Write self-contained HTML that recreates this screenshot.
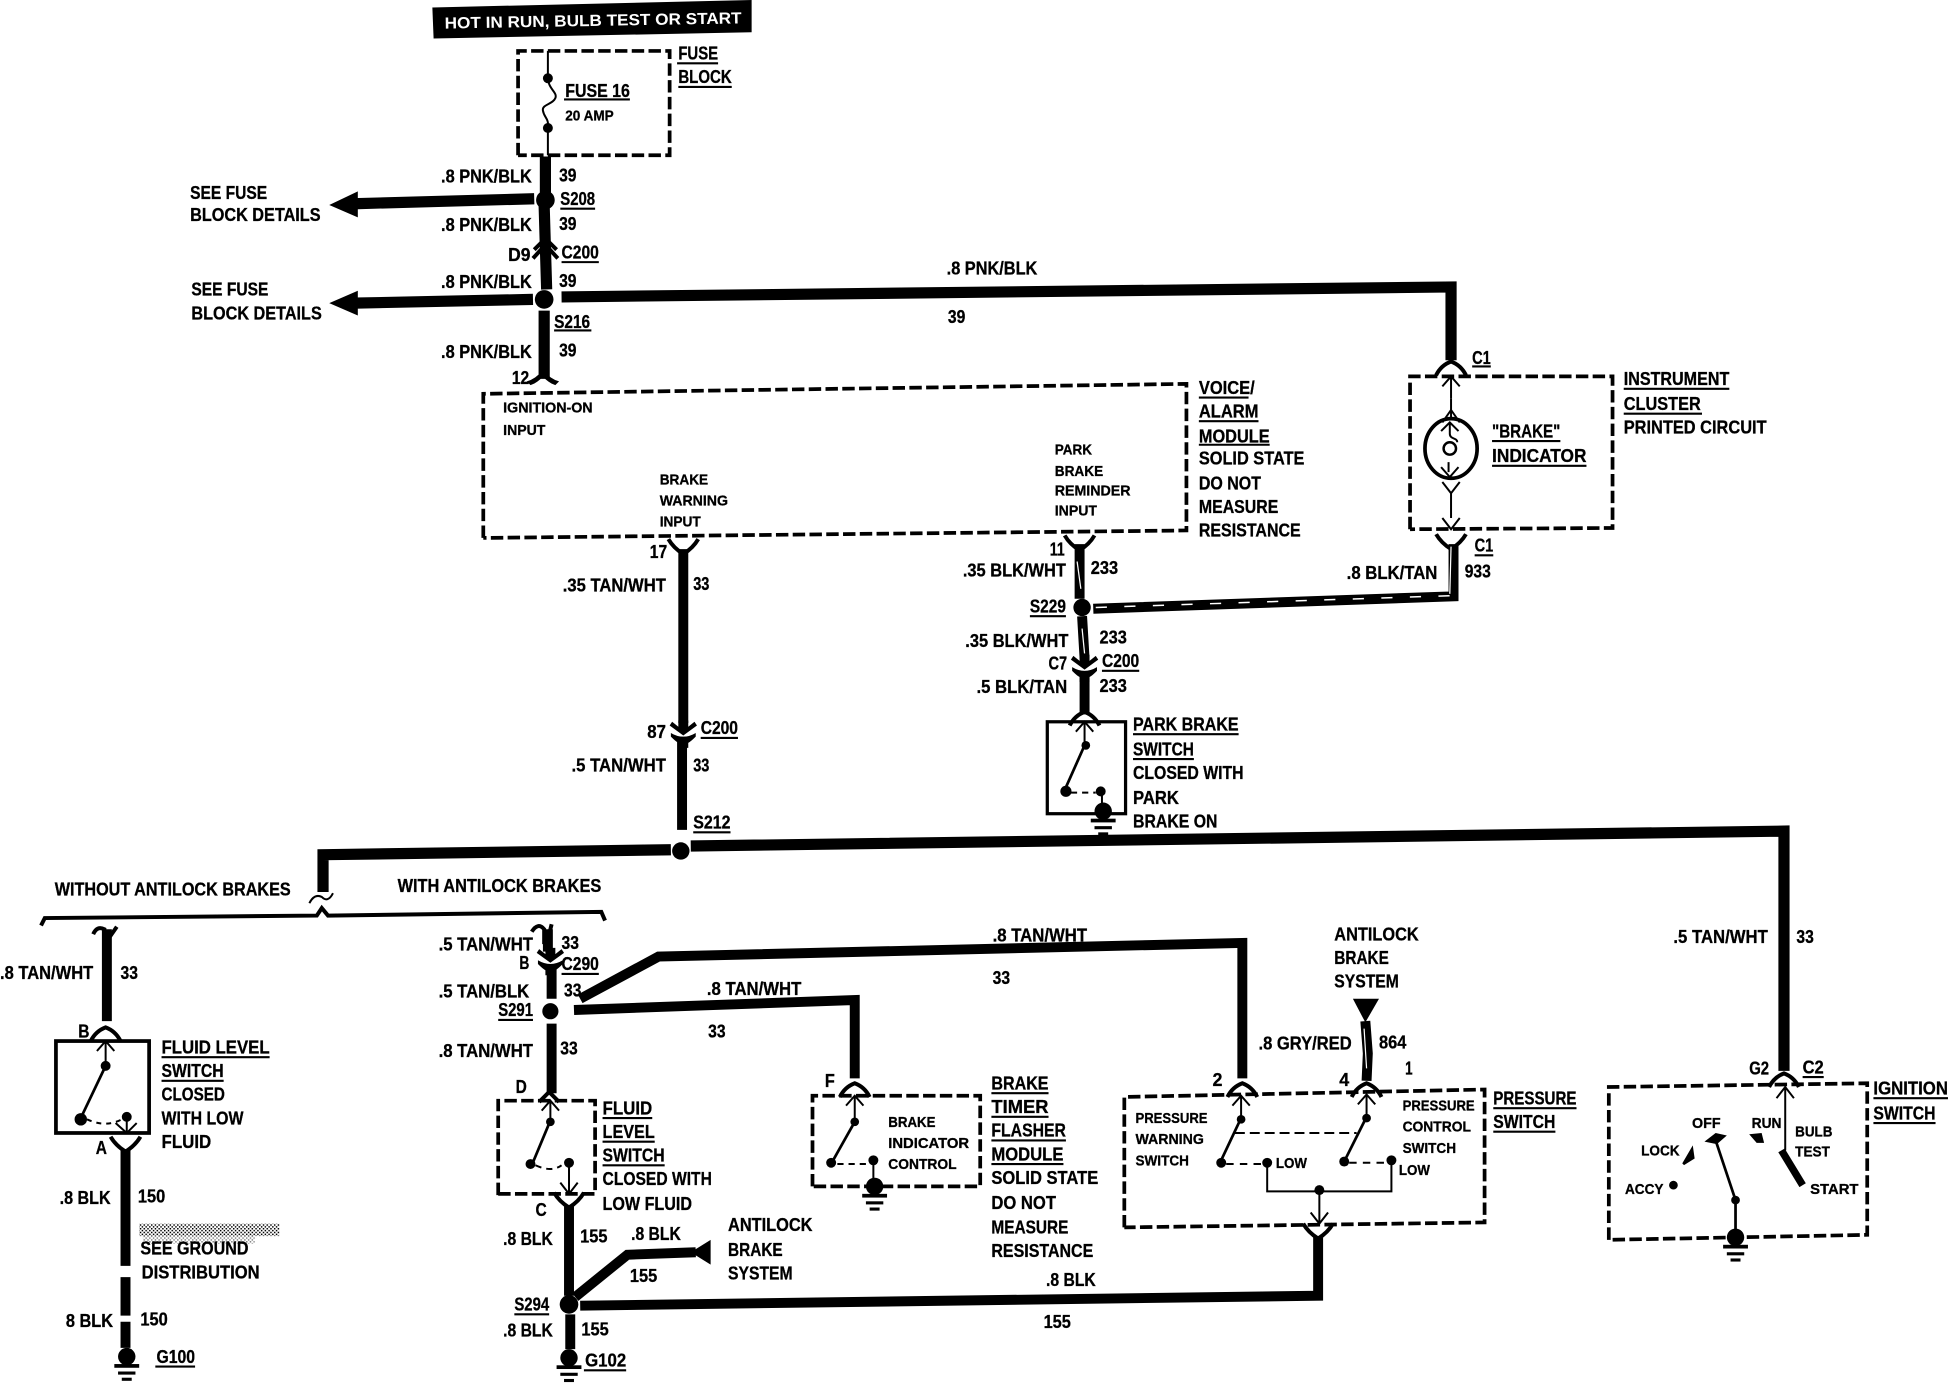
<!DOCTYPE html>
<html><head><meta charset="utf-8"><style>
html,body{margin:0;padding:0;background:#fff}
svg{display:block}
text{font-family:"Liberation Sans",sans-serif;font-weight:700;font-size:15px;fill:#000;stroke:#000;stroke-width:.25}
.s{font-size:12px}
.w{fill:none;stroke:#000;stroke-width:9}
.m{fill:none;stroke:#000;stroke-width:8}
.t{fill:none;stroke:#000;stroke-width:1.6}
.c{fill:none;stroke:#000;stroke-width:3.2}
.d{fill:none;stroke:#000;stroke-width:3;stroke-dasharray:10 3.5}
.u{stroke:#000;stroke-width:1.7}
.x{fill:none;stroke:#fff;stroke-width:1.2;stroke-dasharray:9 14}
</style></head><body>
<svg width="1948" height="1392" viewBox="0 0 1568 1120.5" xmlns="http://www.w3.org/2000/svg">
<defs>
<pattern id="dz" width="3" height="3" patternUnits="userSpaceOnUse"><rect width="1.2" height="1.2" fill="#000"/><rect x="1.5" y="1.5" width="1.2" height="1.2" fill="#000"/></pattern>
<g id="up"><path class="c" d="M-12 6Q-8 -2 0 -5Q8 -2 12 6"/></g>
<g id="dn"><path class="c" d="M-12 -7Q-8 0 0 5Q8 0 12 -7"/></g>
<g id="cx"><path d="M-4 -10H4V-5L9 -9L11 -6L0 2L-11 -6L-9 -9L-4 -5Z"/><path d="M-10 0Q-5 3 0 3Q5 3 10 0L10 3Q6 7 4 8V12H-4V8Q-6 7 -10 3Z"/></g>
<g id="ar"><path class="t" d="M-7 8L0 0L7 8M0 0V18"/></g>
<g id="gnd"><circle cx="0" cy="-3" r="7"/><rect x="-10" y="3" width="20" height="3"/><rect x="-7" y="9" width="14" height="2.5"/><rect x="-4" y="14" width="8" height="2.5"/></g>
</defs>
<rect width="1568" height="1120.5" fill="#fff"/>

<!-- header -->
<path d="M348 6L605 0V26L349 31Z"/>
<text x="358" y="23" textLength="239" lengthAdjust="spacingAndGlyphs" style="fill:#fff;stroke:none;font-size:13px" transform="rotate(-1 358 23)">HOT IN RUN, BULB TEST OR START</text>

<!-- fuse block -->
<path class="d" d="M417 125V41H539V125H417"/>
<path class="t" d="M441 41V62M441 62C441 72 449 74 447 79C445 84 436 84 437 89C438 95 442 95 441 103V125" stroke-width="2"/>
<circle cx="441" cy="63" r="4"/><circle cx="441" cy="103" r="4"/>
<text x="455" y="78" textLength="52" lengthAdjust="spacingAndGlyphs">FUSE 16</text><line class="u" x1="454" y1="80" x2="507" y2="80"/>
<text class="s" x="455" y="97" textLength="39" lengthAdjust="spacingAndGlyphs">20 AMP</text>
<text x="546" y="48" textLength="32" lengthAdjust="spacingAndGlyphs">FUSE</text><line class="u" x1="545" y1="51" x2="578" y2="51"/>
<text x="546" y="67" textLength="43" lengthAdjust="spacingAndGlyphs">BLOCK</text><line class="u" x1="546" y1="70" x2="589" y2="70"/>

<!-- main 39 wire -->
<path class="w" d="M439 126V155M438 166L440 233M438 250V305"/>
<path class="c" d="M429 208L439 197L449 208M430 201L439 192L448 201"/>
<path d="M424 307Q431 305 437 298Q443 305 450 307L447 310Q441 308 437 303Q433 308 427 310Z"/>
<circle cx="439" cy="161" r="7.5"/><circle cx="438" cy="241" r="7.5"/>
<path class="w" d="M285 164L430 160M285 244L429 241"/>
<path d="M265 165L288 154V175ZM265 244L288 234V254Z"/>
<path class="w" d="M452 239L1168 231V290"/>
<use href="#up" x="1168" y="296"/>
<text x="355" y="147" textLength="73" lengthAdjust="spacingAndGlyphs">.8 PNK/BLK</text><text x="450" y="146" textLength="14" lengthAdjust="spacingAndGlyphs">39</text>
<text x="451" y="165" textLength="28" lengthAdjust="spacingAndGlyphs">S208</text><line class="u" x1="451" y1="168" x2="479" y2="168"/>
<text x="355" y="186" textLength="73" lengthAdjust="spacingAndGlyphs">.8 PNK/BLK</text><text x="450" y="185" textLength="14" lengthAdjust="spacingAndGlyphs">39</text>
<text x="409" y="210" textLength="18" lengthAdjust="spacingAndGlyphs">D9</text>
<text x="452" y="208" textLength="30" lengthAdjust="spacingAndGlyphs">C200</text><line class="u" x1="452" y1="211" x2="482" y2="211"/>
<text x="355" y="232" textLength="73" lengthAdjust="spacingAndGlyphs">.8 PNK/BLK</text><text x="450" y="231" textLength="14" lengthAdjust="spacingAndGlyphs">39</text>
<text x="446" y="264" textLength="29" lengthAdjust="spacingAndGlyphs">S216</text><line class="u" x1="446" y1="266" x2="476" y2="266"/>
<text x="355" y="288" textLength="73" lengthAdjust="spacingAndGlyphs">.8 PNK/BLK</text><text x="450" y="287" textLength="14" lengthAdjust="spacingAndGlyphs">39</text>
<text x="412" y="309" textLength="14" lengthAdjust="spacingAndGlyphs">12</text>
<text x="762" y="221" textLength="73" lengthAdjust="spacingAndGlyphs">.8 PNK/BLK</text><text x="763" y="260" textLength="14" lengthAdjust="spacingAndGlyphs">39</text>
<text x="153" y="160" textLength="62" lengthAdjust="spacingAndGlyphs">SEE FUSE</text><text x="153" y="178" textLength="105" lengthAdjust="spacingAndGlyphs">BLOCK DETAILS</text>
<text x="154" y="238" textLength="62" lengthAdjust="spacingAndGlyphs">SEE FUSE</text><text x="154" y="257" textLength="105" lengthAdjust="spacingAndGlyphs">BLOCK DETAILS</text>

<!-- voice alarm module -->
<path class="d" d="M389 433V317L955 309V427L389 433"/>
<text class="s" x="405" y="332" textLength="72" lengthAdjust="spacingAndGlyphs">IGNITION-ON</text><text class="s" x="405" y="350" textLength="34" lengthAdjust="spacingAndGlyphs">INPUT</text>
<text class="s" x="531" y="390" textLength="39" lengthAdjust="spacingAndGlyphs">BRAKE</text><text class="s" x="531" y="407" textLength="55" lengthAdjust="spacingAndGlyphs">WARNING</text><text class="s" x="531" y="424" textLength="33" lengthAdjust="spacingAndGlyphs">INPUT</text>
<text class="s" x="849" y="366" textLength="30" lengthAdjust="spacingAndGlyphs">PARK</text><text class="s" x="849" y="383" textLength="39" lengthAdjust="spacingAndGlyphs">BRAKE</text><text class="s" x="849" y="399" textLength="61" lengthAdjust="spacingAndGlyphs">REMINDER</text><text class="s" x="849" y="415" textLength="34" lengthAdjust="spacingAndGlyphs">INPUT</text>
<text x="965" y="317" textLength="45" lengthAdjust="spacingAndGlyphs">VOICE/</text><line class="u" x1="965" y1="320" x2="1005" y2="320"/>
<text x="965" y="336" textLength="48" lengthAdjust="spacingAndGlyphs">ALARM</text><line class="u" x1="965" y1="339" x2="1013" y2="339"/>
<text x="965" y="356" textLength="57" lengthAdjust="spacingAndGlyphs">MODULE</text><line class="u" x1="965" y1="358" x2="1022" y2="358"/>
<text x="965" y="374" textLength="85" lengthAdjust="spacingAndGlyphs">SOLID STATE</text><text x="965" y="394" textLength="50" lengthAdjust="spacingAndGlyphs">DO NOT</text><text x="965" y="413" textLength="64" lengthAdjust="spacingAndGlyphs">MEASURE</text><text x="965" y="432" textLength="82" lengthAdjust="spacingAndGlyphs">RESISTANCE</text>

<!-- instrument cluster -->
<path class="d" d="M1135 426V303H1298V425L1135 426"/>
<use href="#ar" x="1168" y="303"/>
<path class="t" d="M1168 321V336M1161 340L1168 330L1175 340"/>
<ellipse cx="1168" cy="361" rx="21" ry="24" fill="none" stroke="#000" stroke-width="3"/>
<path class="t" d="M1160 347L1167 340L1174 347M1167 341V349C1167 354 1173 352 1173 356M1166 372V380M1160 376L1167 384L1174 376"/>
<circle cx="1167" cy="361" r="5" fill="none" stroke="#000" stroke-width="2"/>
<path class="t" d="M1161 388L1168 397L1175 388M1168 397V417M1161 417L1168 426L1175 417"/>
<text x="1201" y="352" textLength="55" lengthAdjust="spacingAndGlyphs">"BRAKE"</text><line class="u" x1="1201" y1="355" x2="1256" y2="355"/>
<text x="1201" y="372" textLength="76" lengthAdjust="spacingAndGlyphs">INDICATOR</text><line class="u" x1="1201" y1="375" x2="1277" y2="375"/>
<text x="1185" y="293" textLength="15" lengthAdjust="spacingAndGlyphs">C1</text><line class="u" x1="1185" y1="295" x2="1200" y2="295"/>
<text x="1307" y="310" textLength="85" lengthAdjust="spacingAndGlyphs">INSTRUMENT</text><line class="u" x1="1307" y1="313" x2="1392" y2="313"/>
<text x="1307" y="330" textLength="62" lengthAdjust="spacingAndGlyphs">CLUSTER</text><line class="u" x1="1307" y1="333" x2="1370" y2="333"/>
<text x="1307" y="349" textLength="115" lengthAdjust="spacingAndGlyphs">PRINTED CIRCUIT</text>
<use href="#dn" x="1168" y="437"/>
<text x="1187" y="444" textLength="15" lengthAdjust="spacingAndGlyphs">C1</text><line class="u" x1="1187" y1="447" x2="1202" y2="447"/>
<path class="m" d="M880 490L1170 480V438"/>
<path class="x" d="M882 489L1168 479.5"/>
<path d="M1168 440L1167 478" stroke="#fff" stroke-width="1" fill="none"/>
<text x="1084" y="466" textLength="73" lengthAdjust="spacingAndGlyphs">.8 BLK/TAN</text><text x="1179" y="465" textLength="21" lengthAdjust="spacingAndGlyphs">933</text>

<!-- 233 wire -->
<use href="#dn" x="869" y="438"/>
<path class="m" d="M869 438V482M871 496L873 530M873 545V575"/>
<path d="M867 452L870 474" stroke="#fff" stroke-width="1"/><path d="M871 506L873 526" stroke="#fff" stroke-width="1"/>
<circle cx="871" cy="489" r="7"/>
<use href="#cx" x="873" y="537"/>
<use href="#up" x="873" y="578"/>
<text x="845" y="447" textLength="12" lengthAdjust="spacingAndGlyphs">11</text>
<text x="775" y="464" textLength="83" lengthAdjust="spacingAndGlyphs">.35 BLK/WHT</text><text x="878" y="462" textLength="22" lengthAdjust="spacingAndGlyphs">233</text>
<text x="829" y="493" textLength="29" lengthAdjust="spacingAndGlyphs">S229</text><line class="u" x1="829" y1="496" x2="858" y2="496"/>
<text x="777" y="521" textLength="83" lengthAdjust="spacingAndGlyphs">.35 BLK/WHT</text><text x="885" y="518" textLength="22" lengthAdjust="spacingAndGlyphs">233</text>
<text x="844" y="539" textLength="15" lengthAdjust="spacingAndGlyphs">C7</text>
<text x="887" y="537" textLength="30" lengthAdjust="spacingAndGlyphs">C200</text><line class="u" x1="887" y1="540" x2="917" y2="540"/>
<text x="786" y="558" textLength="73" lengthAdjust="spacingAndGlyphs">.5 BLK/TAN</text><text x="885" y="557" textLength="22" lengthAdjust="spacingAndGlyphs">233</text>

<!-- park brake switch -->
<rect x="843" y="581" width="63" height="74" fill="none" stroke="#000" stroke-width="2.6"/>
<use href="#ar" x="873" y="581"/>
<path d="M873 600L857 636" stroke="#000" stroke-width="2.2"/><circle cx="874" cy="600" r="3.5"/><circle cx="858" cy="637" r="4.5"/><circle cx="886" cy="637" r="4"/>
<path class="t" d="M862 638H882" stroke-dasharray="5 4" stroke-width="2"/>
<path class="t" d="M887 640V650"/>
<use href="#gnd" x="888" y="656"/>
<text x="912" y="588" textLength="85" lengthAdjust="spacingAndGlyphs">PARK BRAKE</text><line class="u" x1="912" y1="591" x2="997" y2="591"/>
<text x="912" y="608" textLength="49" lengthAdjust="spacingAndGlyphs">SWITCH</text><line class="u" x1="912" y1="611" x2="961" y2="611"/>
<text x="912" y="627" textLength="89" lengthAdjust="spacingAndGlyphs">CLOSED WITH</text><text x="912" y="647" textLength="37" lengthAdjust="spacingAndGlyphs">PARK</text><text x="912" y="666" textLength="68" lengthAdjust="spacingAndGlyphs">BRAKE ON</text>

<!-- 33 wire -->
<use href="#dn" x="550" y="441"/>
<path class="m" d="M550 442V582M549 597V668"/>
<use href="#cx" x="550" y="590"/>
<circle cx="548" cy="685" r="7"/>
<text x="523" y="449" textLength="14" lengthAdjust="spacingAndGlyphs">17</text>
<text x="453" y="476" textLength="83" lengthAdjust="spacingAndGlyphs">.35 TAN/WHT</text><text x="558" y="475" textLength="13" lengthAdjust="spacingAndGlyphs">33</text>
<text x="521" y="594" textLength="15" lengthAdjust="spacingAndGlyphs">87</text>
<text x="564" y="591" textLength="30" lengthAdjust="spacingAndGlyphs">C200</text><line class="u" x1="564" y1="594" x2="594" y2="594"/>
<text x="460" y="621" textLength="76" lengthAdjust="spacingAndGlyphs">.5 TAN/WHT</text><text x="558" y="621" textLength="13" lengthAdjust="spacingAndGlyphs">33</text>
<text x="558" y="667" textLength="30" lengthAdjust="spacingAndGlyphs">S212</text><line class="u" x1="558" y1="670" x2="588" y2="670"/>

<path class="w" d="M260 718V688L540 684M556 681L1436 669V862"/>
<path class="t" d="M249 727Q253 719 259 722Q264 727 268 719" stroke-width="2"/>
<text x="1347" y="759" textLength="76" lengthAdjust="spacingAndGlyphs">.5 TAN/WHT</text><text x="1446" y="759" textLength="14" lengthAdjust="spacingAndGlyphs">33</text>
<use href="#up" x="1436" y="869"/>
<text x="1408" y="865" textLength="16" lengthAdjust="spacingAndGlyphs">G2</text><text x="1451" y="864" textLength="17" lengthAdjust="spacingAndGlyphs">C2</text><line class="u" x1="1451" y1="867" x2="1468" y2="867"/>

<text x="44" y="721" textLength="190" lengthAdjust="spacingAndGlyphs">WITHOUT ANTILOCK BRAKES</text>
<text x="320" y="718" textLength="164" lengthAdjust="spacingAndGlyphs">WITH ANTILOCK BRAKES</text>
<path class="c" d="M33 745L36 739L255 737L259 731L264 737L484 734L487 741"/>

<!-- left branch -->
<path class="c" d="M75 752Q78 745 84 748V756M87 756L94 746"/>
<path class="m" d="M86 748V822"/>
<use href="#up" x="85" y="832"/>
<text x="0" y="788" textLength="75" lengthAdjust="spacingAndGlyphs">.8 TAN/WHT</text><text x="97" y="788" textLength="14" lengthAdjust="spacingAndGlyphs">33</text>
<text x="63" y="835" textLength="9" lengthAdjust="spacingAndGlyphs">B</text>
<rect x="45" y="838" width="75" height="74" fill="none" stroke="#000" stroke-width="3"/>
<use href="#ar" x="85" y="838"/>
<path d="M85 858L65 900" stroke="#000" stroke-width="2.2"/><circle cx="85" cy="858" r="4"/><circle cx="65" cy="901" r="5"/><circle cx="102" cy="899" r="4"/>
<path class="t" d="M70 901Q85 908 98 901" stroke-dasharray="4 4" stroke-width="2"/>
<path class="t" d="M93 904L102 912L110 904M102 899V912"/>
<text x="130" y="848" textLength="87" lengthAdjust="spacingAndGlyphs">FLUID LEVEL</text><line class="u" x1="130" y1="851" x2="217" y2="851"/>
<text x="130" y="867" textLength="50" lengthAdjust="spacingAndGlyphs">SWITCH</text><line class="u" x1="130" y1="870" x2="180" y2="870"/>
<text x="130" y="886" textLength="51" lengthAdjust="spacingAndGlyphs">CLOSED</text><text x="130" y="905" textLength="66" lengthAdjust="spacingAndGlyphs">WITH LOW</text><text x="130" y="924" textLength="40" lengthAdjust="spacingAndGlyphs">FLUID</text>
<text x="77" y="929" textLength="9" lengthAdjust="spacingAndGlyphs">A</text>
<use href="#dn" x="101" y="922"/>
<path class="m" d="M101 925V1019M101 1028V1059M101 1064V1085"/>
<text x="48" y="969" textLength="41" lengthAdjust="spacingAndGlyphs">.8 BLK</text><text x="111" y="968" textLength="22" lengthAdjust="spacingAndGlyphs">150</text>
<rect x="112" y="985" width="113" height="10" fill="url(#dz)"/>
<rect x="115" y="995" width="90" height="6" fill="url(#dz)" opacity=".5"/>
<text x="113" y="1010" textLength="87" lengthAdjust="spacingAndGlyphs">SEE GROUND</text><text x="114" y="1029" textLength="95" lengthAdjust="spacingAndGlyphs">DISTRIBUTION</text>
<text x="53" y="1068" textLength="38" lengthAdjust="spacingAndGlyphs">8 BLK</text><text x="113" y="1067" textLength="22" lengthAdjust="spacingAndGlyphs">150</text>
<use href="#gnd" x="102" y="1095"/>
<text x="126" y="1097" textLength="31" lengthAdjust="spacingAndGlyphs">G100</text><line class="u" x1="125" y1="1100" x2="157" y2="1100"/>

<!-- middle branch -->
<path class="c" d="M428 750Q433 742 438 748V760M442 752L444 744"/>
<path class="m" d="M441 748V766M444 780V804M444 824V880"/>
<use href="#cx" x="443" y="773"/>
<circle cx="443" cy="814" r="6.5"/>
<text x="353" y="765" textLength="76" lengthAdjust="spacingAndGlyphs">.5 TAN/WHT</text><text x="452" y="764" textLength="14" lengthAdjust="spacingAndGlyphs">33</text>
<text x="418" y="780" textLength="8" lengthAdjust="spacingAndGlyphs">B</text><text x="452" y="781" textLength="30" lengthAdjust="spacingAndGlyphs">C290</text><line class="u" x1="452" y1="784" x2="482" y2="784"/>
<text x="353" y="803" textLength="73" lengthAdjust="spacingAndGlyphs">.5 TAN/BLK</text><text x="454" y="802" textLength="14" lengthAdjust="spacingAndGlyphs">33</text>
<text x="401" y="818" textLength="28" lengthAdjust="spacingAndGlyphs">S291</text><line class="u" x1="401" y1="821" x2="429" y2="821"/>
<text x="353" y="851" textLength="76" lengthAdjust="spacingAndGlyphs">.8 TAN/WHT</text><text x="451" y="849" textLength="14" lengthAdjust="spacingAndGlyphs">33</text>
<text x="415" y="880" textLength="9" lengthAdjust="spacingAndGlyphs">D</text>
<path class="c" d="M434 887L442 879L450 887"/>
<path class="m" d="M467 804L530 770L1000 759V868"/>
<path class="m" d="M462 813L688 805V868"/>
<use href="#up" x="1000" y="877"/><use href="#up" x="688" y="877"/>
<text x="799" y="758" textLength="76" lengthAdjust="spacingAndGlyphs">.8 TAN/WHT</text><text x="799" y="792" textLength="14" lengthAdjust="spacingAndGlyphs">33</text>
<text x="569" y="801" textLength="76" lengthAdjust="spacingAndGlyphs">.8 TAN/WHT</text><text x="570" y="835" textLength="14" lengthAdjust="spacingAndGlyphs">33</text>

<path class="d" d="M401 962V886H479V961H401" stroke-width="2.6"/>
<use href="#ar" x="443" y="886"/>
<path d="M443 902L428 938" stroke="#000" stroke-width="2.2"/><circle cx="443" cy="903" r="3.5"/><circle cx="427" cy="937" r="4"/><circle cx="458" cy="936" r="4"/>
<path class="t" d="M431 938Q444 944 452 938" stroke-dasharray="5 4" stroke-width="2"/>
<path class="t" d="M458 936V961M451 952L458 961L465 952"/>
<text x="485" y="897" textLength="40" lengthAdjust="spacingAndGlyphs">FLUID</text><line class="u" x1="485" y1="900" x2="525" y2="900"/>
<text x="485" y="916" textLength="42" lengthAdjust="spacingAndGlyphs">LEVEL</text><line class="u" x1="485" y1="919" x2="527" y2="919"/>
<text x="485" y="935" textLength="50" lengthAdjust="spacingAndGlyphs">SWITCH</text><line class="u" x1="485" y1="938" x2="535" y2="938"/>
<text x="485" y="954" textLength="88" lengthAdjust="spacingAndGlyphs">CLOSED WITH</text><text x="485" y="974" textLength="72" lengthAdjust="spacingAndGlyphs">LOW FLUID</text>
<text x="431" y="979" textLength="9" lengthAdjust="spacingAndGlyphs">C</text>
<use href="#dn" x="458" y="967"/>
<path class="m" d="M458 970V1043M459 1058V1086"/>
<circle cx="458" cy="1050" r="7.5"/>
<path class="m" d="M463 1044L505 1010L560 1008M467 1051L1061 1043V995"/>
<path d="M556 1008L572 998V1018Z"/>
<use href="#dn" x="1061" y="992"/>
<text x="405" y="1002" textLength="40" lengthAdjust="spacingAndGlyphs">.8 BLK</text><text x="467" y="1000" textLength="22" lengthAdjust="spacingAndGlyphs">155</text>
<text x="508" y="998" textLength="40" lengthAdjust="spacingAndGlyphs">.8 BLK</text><text x="507" y="1032" textLength="22" lengthAdjust="spacingAndGlyphs">155</text>
<text x="586" y="991" textLength="68" lengthAdjust="spacingAndGlyphs">ANTILOCK</text><text x="586" y="1011" textLength="44" lengthAdjust="spacingAndGlyphs">BRAKE</text><text x="586" y="1030" textLength="52" lengthAdjust="spacingAndGlyphs">SYSTEM</text>
<text x="414" y="1055" textLength="28" lengthAdjust="spacingAndGlyphs">S294</text><line class="u" x1="414" y1="1058" x2="442" y2="1058"/>
<text x="405" y="1076" textLength="40" lengthAdjust="spacingAndGlyphs">.8 BLK</text><text x="468" y="1075" textLength="22" lengthAdjust="spacingAndGlyphs">155</text>
<use href="#gnd" x="458" y="1096"/>
<text x="471" y="1100" textLength="33" lengthAdjust="spacingAndGlyphs">G102</text><line class="u" x1="470" y1="1103" x2="504" y2="1103"/>
<text x="842" y="1035" textLength="40" lengthAdjust="spacingAndGlyphs">.8 BLK</text><text x="840" y="1069" textLength="22" lengthAdjust="spacingAndGlyphs">155</text>

<!-- brake timer -->
<path class="d" d="M654 955V882H789V955H654" stroke-width="2.8"/>
<use href="#ar" x="688" y="882"/>
<path d="M688 903L670 935" stroke="#000" stroke-width="2.2"/><circle cx="688" cy="903" r="3.5"/><circle cx="669" cy="936" r="4"/><circle cx="703" cy="934" r="4"/>
<path class="t" d="M674 937H698" stroke-dasharray="5 4" stroke-width="2"/><path class="t" d="M703 936V950"/>
<use href="#gnd" x="704" y="958"/>
<text x="664" y="875" textLength="8" lengthAdjust="spacingAndGlyphs">F</text>
<text class="s" x="715" y="907" textLength="38" lengthAdjust="spacingAndGlyphs">BRAKE</text><text class="s" x="715" y="924" textLength="65" lengthAdjust="spacingAndGlyphs">INDICATOR</text><text class="s" x="715" y="941" textLength="55" lengthAdjust="spacingAndGlyphs">CONTROL</text>
<text x="798" y="877" textLength="46" lengthAdjust="spacingAndGlyphs">BRAKE</text><line class="u" x1="798" y1="880" x2="844" y2="880"/>
<text x="798" y="896" textLength="46" lengthAdjust="spacingAndGlyphs">TIMER</text><line class="u" x1="798" y1="899" x2="844" y2="899"/>
<text x="798" y="915" textLength="60" lengthAdjust="spacingAndGlyphs">FLASHER</text><line class="u" x1="798" y1="918" x2="858" y2="918"/>
<text x="798" y="934" textLength="58" lengthAdjust="spacingAndGlyphs">MODULE</text><line class="u" x1="798" y1="937" x2="856" y2="937"/>
<text x="798" y="953" textLength="86" lengthAdjust="spacingAndGlyphs">SOLID STATE</text><text x="798" y="973" textLength="52" lengthAdjust="spacingAndGlyphs">DO NOT</text><text x="798" y="993" textLength="62" lengthAdjust="spacingAndGlyphs">MEASURE</text><text x="798" y="1012" textLength="82" lengthAdjust="spacingAndGlyphs">RESISTANCE</text>

<!-- pressure switch -->
<text x="1074" y="757" textLength="68" lengthAdjust="spacingAndGlyphs">ANTILOCK</text><text x="1074" y="776" textLength="44" lengthAdjust="spacingAndGlyphs">BRAKE</text><text x="1074" y="795" textLength="52" lengthAdjust="spacingAndGlyphs">SYSTEM</text>
<path d="M1089 804H1110L1099 823Z"/>
<path class="m" d="M1099 822L1101 848L1100 870" stroke-width="6"/>
<path d="M1098 828L1100 860" stroke="#fff" stroke-width="1"/>
<use href="#up" x="1100" y="877"/>
<text x="1013" y="845" textLength="75" lengthAdjust="spacingAndGlyphs">.8 GRY/RED</text><text x="1110" y="844" textLength="22" lengthAdjust="spacingAndGlyphs">864</text>
<text x="1131" y="865" textLength="6" lengthAdjust="spacingAndGlyphs">1</text>
<text x="976" y="874" textLength="8" lengthAdjust="spacingAndGlyphs">2</text><text x="1078" y="874" textLength="8" lengthAdjust="spacingAndGlyphs">4</text>
<path class="d" d="M905 988V883L1195 877V984L905 988"/>
<use href="#ar" x="999" y="882"/><use href="#ar" x="1100" y="881"/>
<path d="M999 900L982 936M1100 899L1082 935" stroke="#000" stroke-width="2.2"/>
<circle cx="999" cy="901" r="3.5"/><circle cx="1100" cy="900" r="3.5"/><circle cx="983" cy="936" r="4"/><circle cx="1020" cy="936" r="4"/><circle cx="1082" cy="935" r="4"/><circle cx="1120" cy="934" r="4"/>
<path class="t" d="M994 912H1092" stroke-dasharray="8 4"/>
<path class="t" d="M987 937H1015M1086 936H1115" stroke-dasharray="6 5" stroke-width="2"/>
<path class="t" d="M1020 936V959H1120V934" stroke-width="2"/>
<circle cx="1062" cy="958" r="4"/>
<path class="t" d="M1062 958V984M1055 976L1062 985L1069 976"/>
<text class="s" x="914" y="904" textLength="58" lengthAdjust="spacingAndGlyphs">PRESSURE</text><text class="s" x="914" y="921" textLength="55" lengthAdjust="spacingAndGlyphs">WARNING</text><text class="s" x="914" y="938" textLength="43" lengthAdjust="spacingAndGlyphs">SWITCH</text>
<text class="s" x="1027" y="940" textLength="25" lengthAdjust="spacingAndGlyphs">LOW</text>
<text class="s" x="1129" y="894" textLength="58" lengthAdjust="spacingAndGlyphs">PRESSURE</text><text class="s" x="1129" y="911" textLength="55" lengthAdjust="spacingAndGlyphs">CONTROL</text><text class="s" x="1129" y="928" textLength="43" lengthAdjust="spacingAndGlyphs">SWITCH</text>
<text class="s" x="1126" y="946" textLength="25" lengthAdjust="spacingAndGlyphs">LOW</text>
<text x="1202" y="889" textLength="67" lengthAdjust="spacingAndGlyphs">PRESSURE</text><line class="u" x1="1202" y1="892" x2="1269" y2="892"/>
<text x="1202" y="908" textLength="50" lengthAdjust="spacingAndGlyphs">SWITCH</text><line class="u" x1="1202" y1="911" x2="1252" y2="911"/>

<!-- ignition -->
<path class="d" d="M1295 998V875L1503 872V994L1295 998"/>
<path class="t" d="M1437 876V926M1430 884L1437 875L1444 884"/>
<path d="M1434 926L1451 954" stroke="#000" stroke-width="6" fill="none"/>
<path d="M1380 915L1397 966V992" stroke="#000" stroke-width="2.2" fill="none"/>
<path d="M1372 919L1381 912L1390 914L1382 921Z"/><path d="M1408 913L1418 912L1420 920L1414 920Z"/>
<path d="M1355 937L1362 925L1363 932Z" stroke="#000" stroke-width="2"/>
<circle cx="1347" cy="954" r="3.5"/><circle cx="1397" cy="966" r="3.5"/>
<use href="#gnd" x="1397" y="999"/>
<text class="s" x="1362" y="908" textLength="23" lengthAdjust="spacingAndGlyphs">OFF</text><text class="s" x="1410" y="908" textLength="24" lengthAdjust="spacingAndGlyphs">RUN</text>
<text class="s" x="1445" y="915" textLength="30" lengthAdjust="spacingAndGlyphs">BULB</text><text class="s" x="1445" y="931" textLength="28" lengthAdjust="spacingAndGlyphs">TEST</text>
<text class="s" x="1321" y="930" textLength="31" lengthAdjust="spacingAndGlyphs">LOCK</text><text class="s" x="1308" y="961" textLength="31" lengthAdjust="spacingAndGlyphs">ACCY</text><text class="s" x="1457" y="961" textLength="39" lengthAdjust="spacingAndGlyphs">START</text>
<text x="1508" y="881" textLength="60" lengthAdjust="spacingAndGlyphs">IGNITION</text><line class="u" x1="1508" y1="884" x2="1568" y2="884"/>
<text x="1508" y="901" textLength="50" lengthAdjust="spacingAndGlyphs">SWITCH</text><line class="u" x1="1508" y1="904" x2="1558" y2="904"/>
</svg>
</body></html>
